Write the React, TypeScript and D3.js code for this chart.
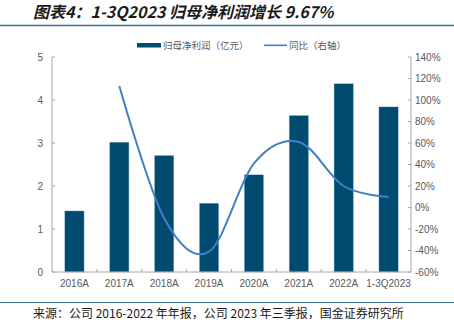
import React from "react";
import * as d3 from "d3";

const categories = ["2016A", "2017A", "2018A", "2019A", "2020A", "2021A", "2022A", "1-3Q2023"];
const profit = [1.42, 3.02, 2.71, 1.6, 2.26, 3.64, 4.38, 3.84];
const growthCats = ["2017A", "2018A", "2019A", "2020A", "2021A", "2022A", "1-3Q2023"];
const growth = [113, -10, -41, 41, 61, 20, 9.67];
const leftTicks = [0, 1, 2, 3, 4, 5];
const rightTicks = [-60, -40, -20, 0, 20, 40, 60, 80, 100, 120, 140];

const W = 454;
const H = 324;
const L = 52;
const R = 411;
const TOP = 57;
const BOT = 272;

export default function App() {
  const x = d3.scaleBand<string>().domain(categories).range([L, R]).padding(0);
  const yL = d3.scaleLinear().domain([0, 5]).range([BOT, TOP]);
  const yR = d3.scaleLinear().domain([-60, 140]).range([BOT, TOP]);
  const bw = x.bandwidth() * 0.43;
  const line = d3
    .line<number>()
    .x((_, i) => (x(growthCats[i]) as number) + x.bandwidth() / 2)
    .y((d) => yR(d))
    .curve(d3.curveCardinal.tension(0));
  const axisColor = "#a6a6a6";
  const txt = "#595959";
  const cjk = "'Noto Sans CJK SC', 'Liberation Sans', sans-serif";
  const lat = "'Liberation Sans', Arial, sans-serif";
  return (
    <div style={{ position: "fixed", left: 0, top: 0 }}>
      <svg width={W} height={H} style={{ display: "block" }}>
        <rect width={W} height={H} fill="#fff" />
        <text x={33} y={18} fontFamily={cjk} fontSize={16} fontWeight="bold" fontStyle="italic" fill="#1a1a1a">
          图表4：1-3Q2023 归母净利润增长 9.67%
        </text>
        <line x1={0} x2={W} y1={25.5} y2={25.5} stroke="#3b7096" strokeWidth={1.5} />
        {/* legend */}
        <rect x={137} y={43} width={24} height={4.5} fill="#004b6f" />
        <text x={163} y={48.5} fontFamily={cjk} fontSize={9.5} fill={txt}>
          归母净利润（亿元）
        </text>
        <line x1={264} x2={287} y1={45.3} y2={45.3} stroke="#3f80c6" strokeWidth={1.6} />
        <text x={289} y={48.5} fontFamily={cjk} fontSize={9.5} fill={txt}>
          同比（右轴）
        </text>
        {/* bars */}
        {profit.map((v, i) => (
          <rect
            key={categories[i]}
            x={(x(categories[i]) as number) + (x.bandwidth() - bw) / 2}
            y={yL(v)}
            width={bw}
            height={BOT - yL(v)}
            fill="#004b6f"
            stroke="#9fbfd2"
            strokeWidth={0.4}
          />
        ))}
        {/* axes */}
        <line x1={L} x2={L} y1={TOP} y2={BOT} stroke={axisColor} strokeWidth={1} />
        <line x1={R} x2={R} y1={TOP} y2={BOT} stroke={axisColor} strokeWidth={1} />
        <line x1={L} x2={R} y1={BOT} y2={BOT} stroke={axisColor} strokeWidth={1} />
        {leftTicks.map((t) => (
          <g key={"l" + t}>
            <line x1={L} x2={L + 3} y1={yL(t)} y2={yL(t)} stroke={axisColor} />
            <text x={43} y={yL(t) + 3.5} textAnchor="end" fontFamily={lat} fontSize={10} fill={txt}>
              {t}
            </text>
          </g>
        ))}
        {rightTicks.map((t) => (
          <g key={"r" + t}>
            <line x1={R - 3} x2={R} y1={yR(t)} y2={yR(t)} stroke={axisColor} />
            <text x={415} y={yR(t) + 3.5} fontFamily={lat} fontSize={10} fill={txt}>
              {t + "%"}
            </text>
          </g>
        ))}
        {categories.map((c, i) => (
          <g key={"x" + c}>
            {i > 0 && (
              <line x1={x(c) as number} x2={x(c) as number} y1={BOT} y2={BOT - 3} stroke={axisColor} />
            )}
            <text
              x={(x(c) as number) + x.bandwidth() / 2}
              y={287}
              textAnchor="middle"
              fontFamily={lat}
              fontSize={10}
              fill={txt}
            >
              {c}
            </text>
          </g>
        ))}
        <path d={line(growth) as string} fill="none" stroke="#3f80c6" strokeWidth={2} />
        <line x1={0} x2={W} y1={302.5} y2={302.5} stroke="#3b7096" strokeWidth={1.2} />
        <text x={33} y={318} fontFamily={cjk} fontSize={12} fill="#1a1a1a">
          来源：公司 2016-2022 年年报，公司 2023 年三季报，国金证券研究所
        </text>
      </svg>
    </div>
  );
}
